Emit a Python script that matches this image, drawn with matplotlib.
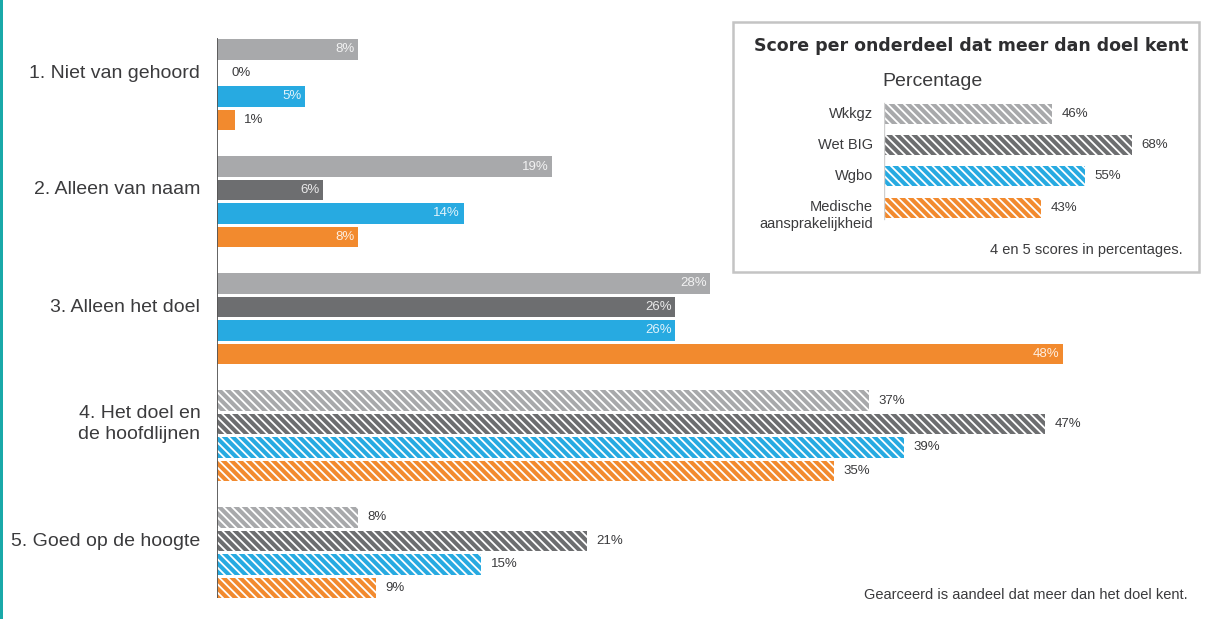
import matplotlib
matplotlib.use('Agg')
import matplotlib.pyplot as plt
from matplotlib.patches import Rectangle

plt.rcParams['hatch.linewidth'] = 1.3

# ---- data ----
categories = ["1. Niet van gehoord", "2. Alleen van naam", "3. Alleen het doel",
              "4. Het doel en\nde hoofdlijnen", "5. Goed op de hoogte"]
series = ["Wkkgz", "Wet BIG", "Wgbo", "Medische\naansprakelijkheid"]
wkkgz = [8, 19, 28, 37, 8]
wet_big = [0, 6, 26, 47, 21]
wgbo = [5, 14, 26, 39, 15]
medische = [1, 8, 48, 35, 9]
hatched_groups = [False, False, False, True, True]
inset_values = [46, 68, 55, 43]

title_inset = "Score per onderdeel dat meer dan doel kent"
subtitle_inset = "Percentage"
note_inset = "4 en 5 scores in percentages."
note_main = "Gearceerd is aandeel dat meer dan het doel kent."

colors = ['#a8a9ab', '#6d6e70', '#27aae1', '#f28a2e']
text_dark = '#3b3b3d'
HATCH = '\\' * 4

FONT = ['Liberation Sans', 'DejaVu Sans']
plt.rcParams['font.family'] = FONT

W, H = 1213, 619
fig = plt.figure(figsize=(W / 100, H / 100), dpi=100)
fig.patch.set_facecolor('white')

# teal left border
fig.patches.append(Rectangle((0, 0), 3 / W, 1, transform=fig.transFigure,
                             facecolor='#19a9a9', edgecolor='none'))

# inset box (behind axes)
fig.patches.append(Rectangle((733 / W, 1 - 272 / H), 466 / W, 250 / H,
                             transform=fig.transFigure, facecolor='none',
                             edgecolor='#c4c4c4', linewidth=1.8, zorder=-1))

# ---- main chart ----
x0 = 217
px_per_pct = 17.62
ax = fig.add_axes([x0 / W, 0, (W - x0) / W, 1])
ax.set_xlim(0, (W - x0) / px_per_pct)
ax.set_ylim(H, 0)
ax.axis('off')

y_first = 49.5
bar_step = 23.45
group_step = 117.0
bar_h = 20.5

all_series = [wkkgz, wet_big, wgbo, medische]
for g in range(len(categories)):
    for s, vals in enumerate(all_series):
        y = y_first + g * group_step + s * bar_step
        v = vals[g]
        if hatched_groups[g]:
            ax.barh(y, v, height=bar_h, color=colors[s], hatch=HATCH,
                    edgecolor='white', linewidth=0)
        else:
            ax.barh(y, v, height=bar_h, color=colors[s], linewidth=0)
        lab = f"{v}%"
        if hatched_groups[g] or v < 3:
            ax.text(v + 0.55 if v > 0 else 0.85, y, lab, ha='left', va='center',
                    fontsize=9.5, color=text_dark)
        else:
            ax.text(v - 0.2, y, lab, ha='right', va='center',
                    fontsize=9.5, color='white', alpha=0.85)
    ax.text(-0.95, y_first + g * group_step + 23.5, categories[g], ha='right',
            va='center', fontsize=14, color=text_dark, linespacing=1.25)

ax.plot([0, 0], [38, 598], color='#555555', lw=1.3, solid_capstyle='butt')

ax.text((1188 - x0) / px_per_pct, 595, note_main, ha='right', va='center',
        fontsize=10.5, color=text_dark)

# ---- inset ----
fig.text(971 / W, 1 - 46 / H, title_inset, ha='center', va='center',
         fontsize=12.5, fontweight='bold', color='#2e2e30',
         family=['DejaVu Sans'])
fig.text(882 / W, 1 - 82 / H, subtitle_inset, ha='left', va='center',
         fontsize=14, color=text_dark)
fig.text(1183 / W, 1 - 250 / H, note_inset, ha='right', va='center',
         fontsize=10.5, color=text_dark)

ix0 = 884
ipx = 3.65
ax2 = fig.add_axes([ix0 / W, 1 - 232 / H, (1195 - ix0) / W, (232 - 95) / H])
ax2.set_xlim(0, (1195 - ix0) / ipx)
ax2.set_ylim(232, 95)
ax2.axis('off')
iy_first = 114
iy_step = 31.2
for i, v in enumerate(inset_values):
    y = iy_first + i * iy_step
    ax2.barh(y, v, height=20, color=colors[i], hatch=HATCH,
             edgecolor='white', linewidth=0)
    ax2.text(v + 2.6, y, f"{v}%", ha='left', va='center', fontsize=9.5,
             color=text_dark)
    if '\n' in series[i]:
        ax2.text(-3, y - 8, series[i], ha='right', va='top', fontsize=10.5,
                 color=text_dark, linespacing=1.35)
    else:
        ax2.text(-3, y, series[i], ha='right', va='center', fontsize=10.5,
                 color=text_dark)
ax2.plot([0, 0], [103, 219], color='#cfcfcf', lw=1.0)

fig.savefig('out.png', dpi=100)
